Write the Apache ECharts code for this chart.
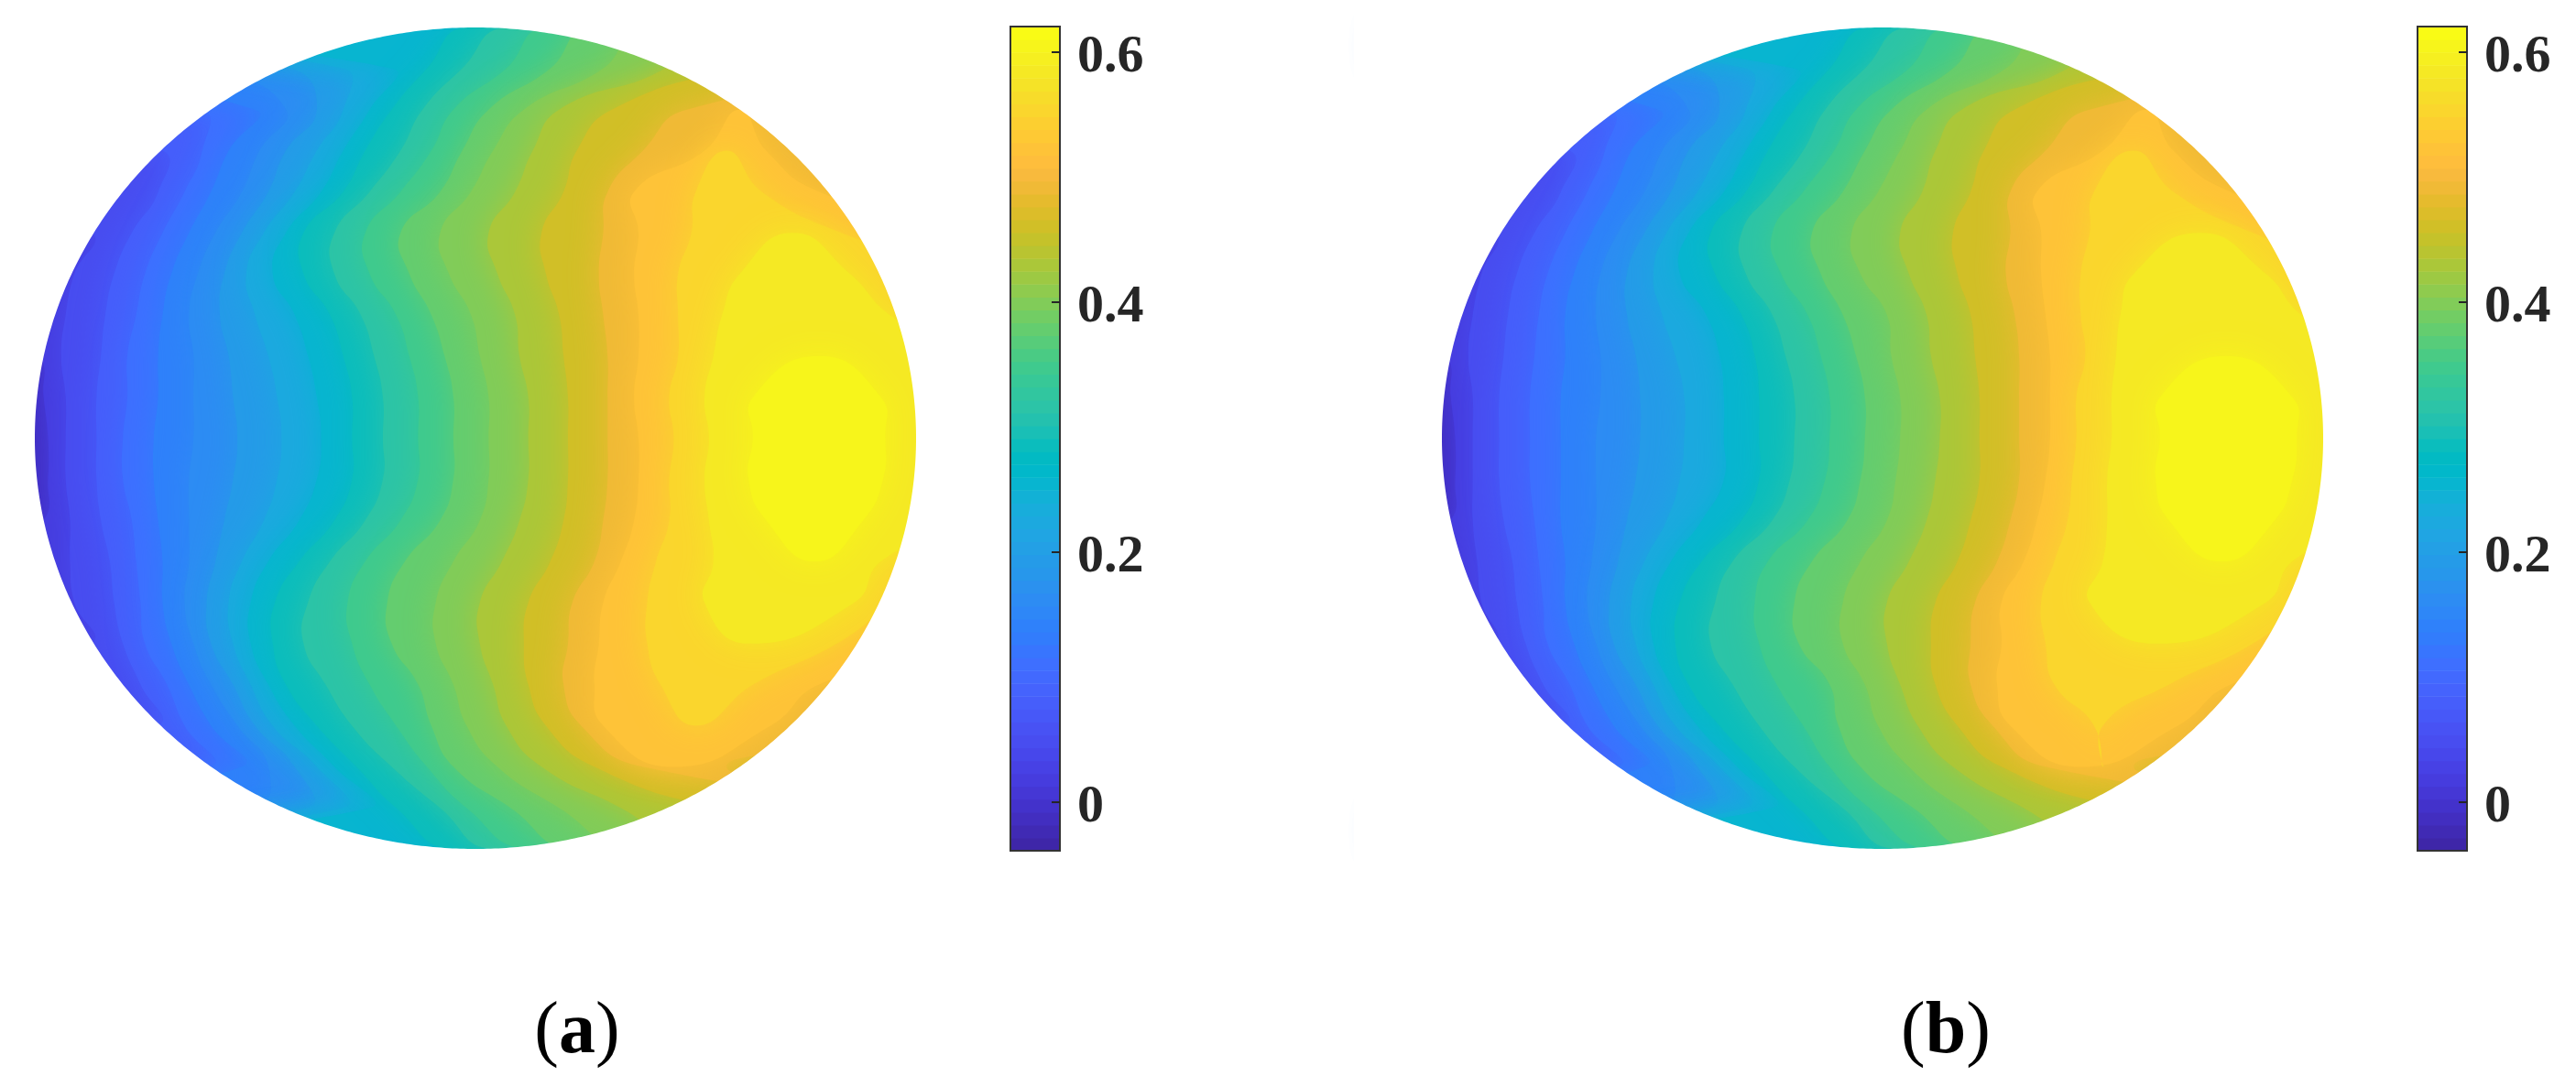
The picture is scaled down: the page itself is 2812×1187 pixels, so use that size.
<!DOCTYPE html>
<html><head><meta charset="utf-8">
<style>html,body{margin:0;padding:0;background:#fff}#c{width:2812px;height:1187px}</style>
<script src="https://cdn.jsdelivr.net/npm/echarts@6/dist/echarts.min.js"></script>
</head><body><div id="c"></div>
<script>
// Contour levels of the plotted field, and the disk rows (normalised) at which each isoline was read.
const LEVELS = [0,.03,.06,.09,.12,.15,.18,.21,.24,.27,.30,.33,.36,.39,.42,.45,.48,.51,.54,.57,.60];
const ROW_V = [1,.9,.8,.7,.6,.5,.4,.3,.2,.1,0,-.1,-.2,-.3,-.4,-.5,-.6,-.7,-.8,-.9,-1];
const TICKS = [0,.2,.4,.6];
const TICK_LABELS = ['0','0.2','0.4','0.6'];
const BAR_MIN = -0.0388, BAR_MAX = 0.6205;
const CAPTIONS = ['a','b'];
// Left crossing of each level, one list per row.
const A_LEFT = [
[-1.1,-1.1,-1.1,-1.1,-1.1,-1.1,-1.1,-1.1,-1.1,-.02,.07,.16,.26,.38,.52,1.1,1.1,.6,.57,.72,.78],
[-1.1,-1.1,-1.1,-1.1,-1.1,-.6,-.42,-.3,-.19,-.11,-.03,.07,.17,.29,.43,.6,1.1,.6,.57,.72,.78],
[-1.1,-1.1,-1.1,-.62,-.5,-.43,-.36,-.3,-.24,-.19,-.12,-.05,.03,.11,.19,.31,.48,.6,.57,.72,.78],
[-1.1,-1.1,-.71,-.62,-.56,-.49,-.43,-.36,-.3,-.25,-.17,-.1,-.03,.04,.13,.23,.38,.52,.57,.72,.78],
[-1.1,-1.1,-.72,-.66,-.6,-.53,-.47,-.41,-.35,-.3,-.24,-.17,-.08,-.01,.09,.2,.3,.36,.5,.72,.78],
[-1.1,-.87,-.78,-.71,-.65,-.59,-.53,-.48,-.43,-.39,-.32,-.25,-.17,-.08,.03,.15,.29,.37,.49,.72,.78],
[-1.1,-.91,-.82,-.75,-.69,-.63,-.57,-.52,-.46,-.39,-.32,-.24,-.15,-.06,.05,.16,.28,.36,.46,.6,.78],
[-1.1,-.93,-.84,-.77,-.71,-.65,-.58,-.5,-.41,-.33,-.26,-.18,-.1,-.01,.09,.19,.29,.37,.46,.56,.78],
[-.99,-.94,-.85,-.79,-.72,-.64,-.56,-.47,-.38,-.3,-.23,-.15,-.07,.01,.1,.2,.3,.37,.46,.54,.78],
[-.98,-.93,-.86,-.79,-.72,-.64,-.55,-.45,-.36,-.28,-.21,-.13,-.05,.03,.12,.21,.3,.36,.44,.52,.63],
[-.97,-.93,-.86,-.8,-.73,-.64,-.54,-.44,-.35,-.28,-.21,-.13,-.05,.03,.12,.21,.3,.37,.45,.53,.63],
[-.97,-.93,-.86,-.8,-.73,-.65,-.55,-.45,-.36,-.28,-.21,-.13,-.05,.03,.12,.21,.3,.37,.44,.52,.62],
[-.98,-.92,-.85,-.78,-.72,-.65,-.57,-.48,-.4,-.32,-.25,-.17,-.08,.01,.1,.2,.29,.36,.44,.53,.66],
[-1.1,-.92,-.83,-.77,-.71,-.65,-.59,-.53,-.47,-.4,-.33,-.25,-.16,-.05,.06,.17,.27,.33,.41,.54,.77],
[-1.1,-.91,-.82,-.76,-.71,-.66,-.61,-.56,-.51,-.455,-.38,-.29,-.2,-.09,.01,.12,.22,.29,.39,.52,.77],
[-1.1,-.87,-.8,-.75,-.69,-.64,-.6,-.55,-.51,-.46,-.39,-.28,-.19,-.09,.01,.11,.21,.28,.39,.62,.77],
[-1.1,-1.1,-.76,-.7,-.65,-.6,-.55,-.51,-.47,-.43,-.34,-.24,-.13,-.05,.04,.12,.2,.27,.42,.62,.77],
[-1.1,-1.1,-.72,-.66,-.6,-.54,-.5,-.46,-.41,-.36,-.28,-.18,-.1,-.02,.07,.16,.24,.29,.5,.62,.77],
[-1.1,-1.1,-1.1,-.6,-.53,-.47,-.41,-.36,-.32,-.27,-.19,-.11,-.05,.05,.15,.27,.38,.45,.5,.62,.77],
[-1.1,-1.1,-1.1,-1.1,-1.1,-.5,-.38,-.3,-.24,-.18,-.08,-.02,.08,.19,.33,.55,1.1,.45,.5,.62,.77],
[-1.1,-1.1,-1.1,-1.1,-1.1,-1.1,-1.1,-1.1,-1.1,-.05,.04,.12,.22,.35,.5,1.1,1.1,.45,.5,.62,.77]
];
// Right crossing of the five highest levels (which close up inside the disk).
const A_RIGHT = [
[1.1,.6,.57,.72,.78],[1.1,.6,.57,.72,.78],[1.1,.6,.57,.72,.78],[1.1,.66,.57,.72,.78],[1.1,.78,.65,.72,.78],
[1.1,1.1,.83,.72,.78],[1.1,1.1,1.1,.85,.78],[1.1,1.1,1.1,.94,.78],[1.1,1.1,1.1,1.1,.78],[1.1,1.1,1.1,1.1,.92],
[1.1,1.1,1.1,1.1,.93],[1.1,1.1,1.1,1.1,.925],[1.1,1.1,1.1,1.1,.88],[1.1,1.1,1.1,.92,.77],[1.1,1.1,.95,.86,.77],
[1.1,1.1,.82,.62,.77],[1.1,.78,.63,.62,.77],[1.1,.67,.5,.62,.77],[.57,.45,.5,.62,.77],[1.1,.45,.5,.62,.77],[1.1,.45,.5,.62,.77]
];
const B_LEFT = [
[-1.1,-1.1,-1.1,-1.1,-1.1,-1.1,-1.1,-1.1,-1.1,-.03,.06,.15,.25,.37,.51,1.1,1.1,.6,.57,.72,.78],
[-1.1,-1.1,-1.1,-1.1,-1.1,-.6,-.43,-.31,-.2,-.12,-.04,.06,.16,.28,.42,.6,1.1,.6,.57,.72,.78],
[-1.1,-1.1,-1.1,-.62,-.51,-.44,-.37,-.31,-.25,-.2,-.13,-.06,.02,.1,.18,.3,.47,.6,.57,.72,.78],
[-1.1,-1.1,-.71,-.63,-.57,-.5,-.44,-.37,-.31,-.26,-.18,-.11,-.04,.04,.12,.23,.37,.5,.57,.72,.78],
[-1.1,-1.1,-.73,-.67,-.61,-.54,-.48,-.42,-.36,-.31,-.25,-.18,-.09,-.01,.09,.2,.29,.35,.48,.72,.78],
[-1.1,-.88,-.79,-.72,-.66,-.6,-.54,-.49,-.44,-.39,-.32,-.25,-.16,-.07,.04,.16,.29,.36,.47,.72,.78],
[-1.1,-.91,-.83,-.76,-.7,-.64,-.58,-.52,-.46,-.38,-.31,-.23,-.14,-.05,.06,.17,.28,.36,.45,.57,.78],
[-1.1,-.93,-.85,-.78,-.72,-.65,-.58,-.5,-.4,-.32,-.25,-.17,-.09,.01,.1,.2,.3,.37,.45,.54,.78],
[-.99,-.94,-.86,-.79,-.72,-.64,-.56,-.47,-.37,-.29,-.22,-.14,-.06,.02,.11,.21,.31,.38,.46,.53,.78],
[-.98,-.93,-.87,-.8,-.73,-.64,-.55,-.45,-.36,-.28,-.2,-.12,-.04,.04,.13,.22,.31,.38,.44,.52,.63],
[-.97,-.93,-.87,-.8,-.73,-.65,-.55,-.45,-.36,-.28,-.2,-.12,-.04,.04,.13,.22,.31,.38,.44,.52,.63],
[-.97,-.93,-.87,-.8,-.73,-.65,-.56,-.46,-.36,-.28,-.21,-.13,-.05,.03,.12,.22,.31,.37,.43,.51,.62],
[-.98,-.93,-.86,-.79,-.73,-.65,-.58,-.49,-.41,-.32,-.25,-.17,-.08,.01,.1,.2,.29,.35,.42,.51,.65],
[-1.1,-.92,-.84,-.78,-.72,-.66,-.6,-.54,-.48,-.41,-.34,-.26,-.16,-.05,.06,.17,.26,.32,.39,.5,.77],
[-1.1,-.91,-.83,-.77,-.72,-.67,-.62,-.57,-.52,-.46,-.38,-.29,-.2,-.09,.01,.12,.21,.27,.36,.47,.77],
[-1.1,-.88,-.81,-.76,-.7,-.65,-.61,-.56,-.52,-.47,-.39,-.28,-.19,-.09,.01,.11,.2,.27,.37,.62,.77],
[-1.1,-1.1,-.77,-.71,-.66,-.61,-.56,-.52,-.48,-.44,-.34,-.24,-.12,-.04,.04,.12,.2,.26,.39,.62,.77],
[-1.1,-1.1,-.72,-.67,-.61,-.55,-.51,-.47,-.42,-.37,-.28,-.18,-.1,-.01,.08,.17,.25,.29,.48,.62,.77],
[-1.1,-1.1,-1.1,-.6,-.54,-.48,-.42,-.37,-.33,-.28,-.2,-.12,-.05,.06,.16,.27,.37,.45,.5,.62,.77],
[-1.1,-1.1,-1.1,-1.1,-1.1,-.5,-.39,-.31,-.25,-.19,-.09,-.03,.07,.18,.32,.55,1.1,.45,.5,.62,.77],
[-1.1,-1.1,-1.1,-1.1,-1.1,-1.1,-1.1,-1.1,-1.1,-.06,.03,.11,.21,.34,.5,1.1,1.1,.45,.5,.62,.77]
];
const B_RIGHT = [
[1.1,.6,.57,.72,.78],[1.1,.6,.57,.72,.78],[1.1,.6,.57,.72,.78],[1.1,.66,.57,.72,.78],[1.1,.79,.66,.72,.78],
[1.1,1.1,.84,.72,.78],[1.1,1.1,1.1,.87,.78],[1.1,1.1,1.1,.95,.78],[1.1,1.1,1.1,1.1,.78],[1.1,1.1,1.1,1.1,.93],
[1.1,1.1,1.1,1.1,.94],[1.1,1.1,1.1,1.1,.93],[1.1,1.1,1.1,1.1,.89],[1.1,1.1,1.1,.93,.77],[1.1,1.1,.96,.87,.77],
[1.1,1.1,.84,.62,.77],[1.1,.79,.65,.62,.77],[1.1,.67,.5,.62,.77],[.57,.45,.5,.62,.77],[1.1,.45,.5,.62,.77],[1.1,.45,.5,.62,.77]
];
// Colormap (64 entries) of the colour bar.
const PARULA = [[.2422,.1504,.6603],[.2504,.165,.7076],[.2578,.1818,.7511],[.2647,.1978,.7952],[.2706,.2147,.8364],[.2751,.2342,.871],[.2783,.2559,.8991],[.2803,.2782,.9221],[.2813,.3006,.9414],[.281,.3228,.9579],[.2795,.3447,.9717],[.276,.3667,.9829],[.2699,.3892,.9906],[.2602,.4123,.9952],[.244,.4358,.9988],[.2206,.4603,.9973],[.1963,.4847,.9892],[.1834,.5074,.9798],[.1786,.5289,.9682],[.1764,.5499,.952],[.1687,.5703,.9359],[.154,.5902,.9218],[.146,.6091,.9079],[.138,.6276,.8973],[.1248,.6459,.8883],[.1113,.6635,.8763],[.0952,.6798,.8598],[.0689,.6948,.8394],[.0297,.7082,.8163],[.0036,.7203,.7917],[.0067,.7312,.766],[.0433,.7411,.7394],[.0964,.75,.712],[.1408,.7584,.6842],[.1717,.767,.6554],[.1938,.7758,.6251],[.2161,.7843,.5923],[.247,.7918,.5567],[.2906,.7973,.5188],[.3406,.8008,.4789],[.3909,.8029,.4354],[.4456,.8024,.3909],[.5044,.7993,.348],[.5616,.7942,.3045],[.6174,.7876,.2612],[.672,.7793,.2227],[.7242,.7698,.191],[.7738,.7598,.1646],[.8203,.7498,.1535],[.8634,.7406,.1596],[.9035,.733,.1774],[.9393,.7288,.21],[.9728,.7298,.2394],[.9956,.7434,.2371],[.997,.7659,.2199],[.9952,.7893,.2028],[.9892,.8136,.1885],[.9786,.8386,.1766],[.9676,.8639,.1643],[.961,.889,.1537],[.9597,.9135,.1423],[.9628,.9373,.1265],[.9691,.9606,.1064],[.9769,.9839,.0805]];

function cmap(i){const c=PARULA[Math.max(0,Math.min(63,Math.round(i)))];
  return 'rgb('+c.map(x=>Math.round(x*255)).join(',')+')';}
function colorOf(v){return cmap((v-BAR_MIN)/(BAR_MAX-BAR_MIN)*63);}
const HALF_STEP=.015, FAR=1.1, FIRST_RIGHT=16;

function bandSeries(gridIndex,left,right){
  return {type:'custom',coordinateSystem:'cartesian2d',xAxisIndex:gridIndex,yAxisIndex:gridIndex,
    clip:false,silent:true,z:2,
    data:[-1].concat(LEVELS.map((_,i)=>i)).map(i=>[i]),
    renderItem(params,api){
      const k=api.value(0);
      if(k<0){const pts=[];ROW_V.forEach(v=>pts.push(api.coord([-FAR,v])));
        ROW_V.slice().reverse().forEach(v=>pts.push(api.coord([FAR,v])));
        return {type:'polygon',shape:{points:pts},style:{fill:colorOf(LEVELS[0]-HALF_STEP)}};}
      const L=r=>left[r][k], R=r=>k>=FIRST_RIGHT?right[r][k-FIRST_RIGHT]:FAR;
      // keep the rows where the level exists, plus the closing point on each side
      const open=ROW_V.map((_,r)=>L(r)<R(r));
      const rows=ROW_V.map((_,r)=>r).filter(r=>open[r]||open[r-1]||open[r+1]);
      const pts=[];
      rows.forEach(r=>pts.push(api.coord([L(r),ROW_V[r]])));
      rows.slice().reverse().forEach(r=>{if(open[r])pts.push(api.coord([R(r),ROW_V[r]]));});
      const col=colorOf(LEVELS[k]+HALF_STEP);
      return {type:'polygon',shape:{points:pts,smooth:.5},style:{fill:col,shadowBlur:34,shadowColor:col}};
    }};
}
function maskSeries(gridIndex){
  return {type:'custom',coordinateSystem:'cartesian2d',xAxisIndex:gridIndex,yAxisIndex:gridIndex,
    clip:false,silent:true,z:3,data:[[0]],
    renderItem(params,api){
      const E=1.2,pts=[[E,0],[E,E],[-E,E],[-E,-E],[E,-E],[E,0]];
      for(let a=0;a<=720;a++){const t=-a/720*2*Math.PI;pts.push([Math.cos(t),Math.sin(t)]);}
      return {type:'polygon',shape:{points:pts.map(p=>api.coord(p))},style:{fill:'#fff'}};
    }};
}
function barSeries(gridIndex){
  return {type:'custom',coordinateSystem:'cartesian2d',xAxisIndex:gridIndex,yAxisIndex:gridIndex,
    clip:false,silent:true,z:4,data:PARULA.map((_,i)=>[i]),
    renderItem(params,api){
      const i=api.value(0),s=(BAR_MAX-BAR_MIN)/64;
      const a=api.coord([0,BAR_MIN+(i+1)*s]),b=api.coord([1,BAR_MIN+i*s]);
      const kids=[{type:'rect',shape:{x:a[0],y:a[1],width:b[0]-a[0],height:b[1]-a[1]+.6},style:{fill:cmap(i)}}];
      if(i===63){const p=api.coord([0,BAR_MAX]),q=api.coord([1,BAR_MIN]);
        kids.push({type:'rect',shape:{x:p[0],y:p[1],width:q[0]-p[0],height:q[1]-p[1]},style:{fill:'none',stroke:'#333',lineWidth:2}});
        TICKS.forEach(t=>{const e=api.coord([1,t]);
          kids.push({type:'line',shape:{x1:e[0]-9,y1:e[1],x2:e[0],y2:e[1]},style:{stroke:'#262626',lineWidth:2}});});}
      return {type:'group',children:kids};
    }};
}
function hiddenX(i,min,max){return {gridIndex:i,type:'value',min,max,show:false};}
const GRIDS=[
  {left:38,top:30,width:962,height:897},
  {left:1574,top:30,width:962,height:897},
  {left:1103,top:29,width:54,height:900},
  {left:2639,top:29,width:54,height:900}
];
const LABEL_FONT={fontFamily:'Liberation Serif',fontWeight:'bold',fontSize:58,color:'#262626'};
const barAxis=i=>({gridIndex:i,type:'value',min:BAR_MIN,max:BAR_MAX,position:'right',
  splitLine:{show:false},axisLine:{show:false},axisTick:{show:false},
  axisLabel:Object.assign({show:true,customValues:TICKS,margin:19,
    rich:{t:Object.assign({padding:[12,0,0,0]},LABEL_FONT)},
    formatter:v=>'{t|'+TICK_LABELS[TICKS.findIndex(t=>Math.abs(t-v)<1e-6)]+'}'},LABEL_FONT)});
const caption=(c,x)=>({text:'{p|(}{b|'+c+'}{p|)}',left:x,top:1088,textAlign:'center',padding:0,
  textStyle:{rich:{p:{fontFamily:'Liberation Serif',fontSize:80,color:'#000',fontWeight:'normal'},
                   b:{fontFamily:'Liberation Serif',fontSize:80,color:'#000',fontWeight:'bold'}}}});
const chart=echarts.init(document.getElementById('c'),null,{renderer:'canvas',width:2812,height:1187});
chart.setOption({
  animation:false,backgroundColor:'#fff',
  title:[caption(CAPTIONS[0],630),caption(CAPTIONS[1],2124)],
  grid:GRIDS,
  xAxis:[hiddenX(0,-1,1),hiddenX(1,-1,1),hiddenX(2,0,1),hiddenX(3,0,1)],
  yAxis:[hiddenX(0,-1,1),hiddenX(1,-1,1),barAxis(2),barAxis(3)],
  series:[bandSeries(0,A_LEFT,A_RIGHT),maskSeries(0),bandSeries(1,B_LEFT,B_RIGHT),maskSeries(1),barSeries(2),barSeries(3)]
});
</script></body></html>
